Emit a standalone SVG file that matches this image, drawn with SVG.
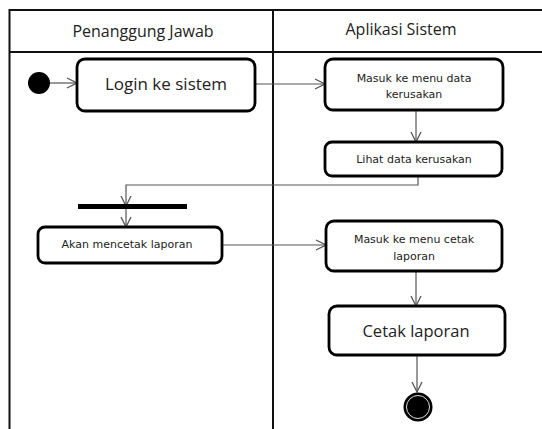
<svg xmlns="http://www.w3.org/2000/svg" width="542" height="429" viewBox="0 0 542 429">
  <style>
    .lane { fill: none; stroke: #111; stroke-width: 2; }
    .act { fill: #fff; stroke: #000; stroke-width: 2.8; }
    .flow { fill: none; stroke: #555; stroke-width: 1.2; }
    .head { font-family: "Open Sans", "Noto Sans", sans-serif; font-size: 16px; fill: #222; text-anchor: middle; }
    .big { font-family: "Open Sans", "Noto Sans", sans-serif; font-size: 17px; fill: #222; text-anchor: middle; }
    .small { font-family: "DejaVu Sans", Verdana, sans-serif; font-size: 11px; fill: #222; text-anchor: middle; }
  </style>
  <defs>
    <marker id="open" viewBox="0 0 12 12" refX="11" refY="6" markerWidth="12" markerHeight="12" markerUnits="userSpaceOnUse" orient="auto">
      <path d="M1,1 L11,6 L1,11" fill="none" stroke="#555" stroke-width="1.3"/>
    </marker>
  </defs>
  <rect width="542" height="429" fill="#fff"/>

  <!-- swimlanes -->
  <g id="lanes">
    <path class="lane" d="M9.5,429 V10 H542"/>
    <path class="lane" d="M9.5,52 H542"/>
    <path class="lane" d="M273,10 V429"/>
    <text class="head" x="143" y="37">Penanggung Jawab</text>
    <text class="head" x="401" y="35">Aplikasi Sistem</text>
  </g>

  <!-- control flows -->
  <g id="connectors">
    <path class="flow" d="M50,83 H77" marker-end="url(#open)"/>
    <path class="flow" d="M255,84 H325" marker-end="url(#open)"/>
    <path class="flow" d="M416,110 V142" marker-end="url(#open)"/>
    <path class="flow" d="M418,176 V185 H126 V206" marker-end="url(#open)"/>
    <path class="flow" d="M126,209 V227" marker-end="url(#open)"/>
    <path class="flow" d="M222,245 H326" marker-end="url(#open)"/>
    <path class="flow" d="M416,271 V306" marker-end="url(#open)"/>
    <path class="flow" d="M417,355 V392" marker-end="url(#open)"/>
  </g>

  <g id="start">
    <circle cx="39" cy="83" r="11" fill="#000"/>
  </g>

  <g id="login">
    <rect class="act" x="77" y="59" width="178" height="52" rx="8"/>
    <text class="big" x="166" y="90">Login ke sistem</text>
  </g>

  <g id="menu-data">
    <rect class="act" x="325" y="59" width="178" height="51" rx="8"/>
    <text class="small" x="414" y="82">Masuk ke menu data</text>
    <text class="small" x="414" y="98">kerusakan</text>
  </g>

  <g id="lihat-data">
    <rect class="act" x="325" y="142" width="177" height="34" rx="7"/>
    <text class="small" x="414" y="163">Lihat data kerusakan</text>
  </g>

  <g id="fork">
    <rect x="78" y="204" width="109" height="5" fill="#000"/>
  </g>

  <g id="akan-cetak">
    <rect class="act" x="38" y="227" width="184" height="36" rx="7"/>
    <text class="small" x="127" y="248">Akan mencetak laporan</text>
  </g>

  <g id="menu-cetak">
    <rect class="act" x="326" y="221" width="176" height="50" rx="8"/>
    <text class="small" x="414" y="243">Masuk ke menu cetak</text>
    <text class="small" x="414" y="260">laporan</text>
  </g>

  <g id="cetak">
    <rect class="act" x="329" y="306" width="176" height="49" rx="8"/>
    <text class="big" x="416" y="337" style="font-size:16.5px">Cetak laporan</text>
  </g>

  <g id="end">
    <circle cx="418" cy="407" r="14.5" fill="#000"/>
    <circle cx="418" cy="407" r="11.5" fill="none" stroke="#ddd" stroke-width="1"/>
  </g>
</svg>
